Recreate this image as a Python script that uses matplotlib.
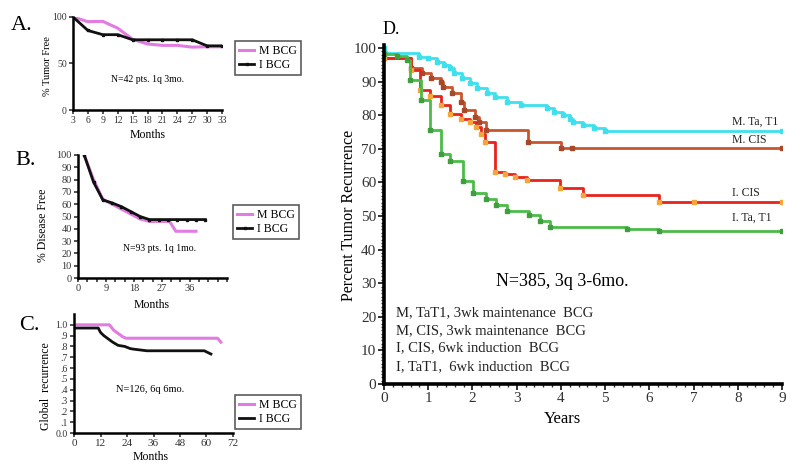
import numpy as np
import matplotlib
matplotlib.use('Agg')
import matplotlib.pyplot as plt
from matplotlib.ticker import MultipleLocator

plt.rcParams['font.family'] = ['Liberation Serif', 'DejaVu Serif']

W, H = 800, 473

# panel A: % tumor free, 3-monthly
a_months = [3, 6, 9, 12, 15, 18, 21, 24, 27, 30, 33]
a_m_bcg = [100, 95, 95.3, 88, 76, 71, 69.5, 69.5, 67.6, 68, 68]
a_i_bcg = [100, 85.5, 81, 81, 75.5, 75.5, 75.5, 75.5, 75.5, 69, 69]

# panel B: % disease free
b_m_months = [2, 5, 8, 11, 14, 17, 20, 23, 26, 29.5, 31.5, 34.5, 38]
b_m_bcg = [100, 80, 64, 60, 56, 52, 48, 46, 46, 46, 38, 38, 38]
b_i_months = [2, 5, 8, 11, 14, 17, 20, 23, 26, 29, 32, 35, 38, 41]
b_i_bcg = [100, 78, 63.5, 61, 58, 54, 50, 47.5, 47.5, 47.5, 47.5, 47.5, 47.5, 47.5]

# panel C: global recurrence
c_m_months = [0, 16, 18, 20, 22, 23.5, 65, 66.5]
c_m_bcg = [1.0, 1.0, 0.95, 0.92, 0.89, 0.876, 0.876, 0.84]
c_i_months = [0, 11, 12, 13.5, 15.5, 17.5, 20, 23, 25.5, 27, 33, 59, 60.5, 62]
c_i_bcg = [0.97, 0.97, 0.93, 0.90, 0.87, 0.84, 0.81, 0.80, 0.78, 0.775, 0.76, 0.76, 0.745, 0.73]

# panel D: percent tumor recurrence (Kaplan-Meier steps), years
d_mta_t = [0, 0.03, 0.8, 1.0, 1.2, 1.35, 1.5, 1.58, 1.76, 1.95, 2.1, 2.32, 2.51, 2.78, 3.1,
           3.68, 3.85, 4.05, 4.2, 4.28, 4.5, 4.74, 5.0, 9.0]
d_mta_v = [100, 98.4, 97.4, 96.9, 95.9, 94.9, 94.0, 92.5, 91.0, 89.5, 88.0, 86.5, 85.5, 84.0, 83.0,
           82.0, 81.0, 80.0, 79.0, 78.0, 77.0, 76.2, 75.4, 75.4]
d_mcis_t = [0, 0.62, 0.85, 1.07, 1.3, 1.34, 1.53, 1.75, 1.8, 2.05, 2.15, 2.3, 3.25, 4.0, 4.25, 9.0]
d_mcis_v = [96.9, 94.0, 92.5, 91.0, 90.0, 88.5, 86.5, 84.0, 81.5, 79.5, 78.0, 75.6, 72.1, 70.2, 70.2, 70.2]
d_icis_t = [0, 0.6, 0.82, 1.05, 1.28, 1.5, 1.75, 1.95, 2.07, 2.2, 2.28, 2.51, 2.74, 2.96, 3.23,
            3.98, 4.49, 6.21, 7.0, 9.0]
d_icis_v = [96.9, 93.5, 87.6, 85.6, 83.1, 80.5, 79.0, 78.0, 76.6, 74.5, 72.1, 63.2, 62.4, 61.5, 60.7,
            58.3, 56.2, 54.3, 54.3, 54.3]
d_ita_t = [0, 0.3, 0.51, 0.59, 0.83, 1.04, 1.3, 1.5, 1.78, 2.02, 2.3, 2.53, 2.79, 3.27, 3.53, 3.76,
           5.49, 6.21, 9.0]
d_ita_v = [98.2, 97.5, 96.4, 90.5, 84.5, 75.6, 68.6, 66.5, 60.5, 56.8, 55.0, 53.3, 51.5, 50.3, 48.5, 46.8,
           46.2, 45.6, 45.6]

d_legend = ['M, TaT1, 3wk maintenance  BCG', 'M, CIS, 3wk maintenance  BCG',
            'I, CIS, 6wk induction  BCG', 'I, TaT1,  6wk induction  BCG']

pink = '#e27be2'
black = '#111111'

fig = plt.figure(figsize=(W / 100, H / 100), dpi=100)


def place(x0, x1, ytop, ybot):
    return fig.add_axes([x0 / W, 1 - ybot / H, (x1 - x0) / W, (ybot - ytop) / H])


def ftext(x, y, s, **kw):
    kw.setdefault('ha', 'center')
    kw.setdefault('va', 'center')
    fig.text(x / W, 1 - y / H, s, **kw)


def style(ax, lw=1.8, size=7):
    for side in ['top', 'right']:
        ax.spines[side].set_visible(False)
    for side in ['left', 'bottom']:
        ax.spines[side].set_linewidth(lw)
        ax.spines[side].set_color('black')
    ax.tick_params(which='both', direction='out', width=1.2, length=3, labelsize=size, pad=1.5,
                   colors='#333333')


def small_legend(ax, x, y):
    leg = ax.legend(loc='upper left', bbox_to_anchor=(x / W, 1 - y / H), bbox_transform=fig.transFigure,
                    fontsize=8.5, frameon=True, fancybox=False, handlelength=1.3, handletextpad=0.4,
                    borderpad=0.35, labelspacing=0.15, borderaxespad=0)
    leg.get_frame().set_edgecolor('#333333')
    leg.get_frame().set_linewidth(1.2)


# ---- A
ax = place(73, 222, 17, 110)
ax.plot(a_months, a_m_bcg, color=pink, lw=2.2, label='M BCG')
ax.plot(a_months, a_i_bcg, color=black, lw=2.0, marker='s', ms=2, label='I BCG')
ax.set_xlim(3, 33)
ax.set_ylim(0, 100)
ax.set_xticks(range(3, 34, 3))
ax.set_yticks([0, 50, 100])
style(ax)
small_legend(ax, 235, 41)
ftext(148, 80, 'N=42 pts. 1q 3mo.', fontsize=7)
ftext(148, 135, 'Months', fontsize=8.5)
ftext(47, 66, '% Tumor Free', fontsize=7.5, rotation=90)
ftext(22, 25, 'A.', fontsize=16)

# ---- B
ax = place(78, 227, 155, 278)
ax.plot(b_m_months, b_m_bcg, color=pink, lw=2.2, label='M BCG')
ax.plot(b_i_months, b_i_bcg, color=black, lw=2.0, marker='s', ms=2, label='I BCG')
ax.set_xlim(0, 48)
ax.set_ylim(0, 100)
ax.set_xticks([0, 9, 18, 27, 36])
ax.xaxis.set_minor_locator(MultipleLocator(3))
ax.set_yticks(range(0, 101, 10))
style(ax, size=7.5)
small_legend(ax, 233, 205)
ftext(160, 248, 'N=93 pts. 1q 1mo.', fontsize=7)
ftext(152, 305, 'Months', fontsize=8.5)
ftext(43, 225, '% Disease Free', fontsize=8.5, rotation=90)
ftext(26, 160, 'B.', fontsize=16)

# ---- C
ax = place(74, 233, 314, 433)
ax.plot(c_m_months, c_m_bcg, color=pink, lw=2.2, label='M BCG')
ax.plot(c_i_months, c_i_bcg, color=black, lw=2.0, label='I BCG')
ax.set_xlim(0, 72)
ax.set_ylim(0, 1.1)
ax.set_xticks(range(0, 73, 12))
c_ticks = np.round(np.arange(0, 1.01, 0.1), 1)
ax.set_yticks(c_ticks)
ax.set_yticklabels(['0.0'] + ['.%d' % k for k in range(1, 10)] + ['1.0'])
style(ax, size=7)
ax.tick_params(axis='x', labelsize=8)
small_legend(ax, 235, 395)
ftext(150, 389, 'N=126, 6q 6mo.', fontsize=7.5)
ftext(151, 457, 'Months', fontsize=8.5)
ftext(46, 386, 'Global  recurrence', fontsize=8.5, rotation=90)
ftext(29, 325, 'C.', fontsize=16)

# ---- D
ax = place(384, 782, 45, 384)
d_series = [
    (d_mta_t, d_mta_v, '#3fe0ee', '#3fe0ee'),
    (d_mcis_t, d_mcis_v, '#c8552e', '#a8482a'),
    (d_icis_t, d_icis_v, '#e8231e', '#f5a53a'),
    (d_ita_t, d_ita_v, '#4cbb4a', '#3f9f3e'),
]
for t, v, col, mcol in d_series:
    ax.plot(t, v, drawstyle='steps-post', color=col, lw=2.0, marker='s', ms=2.4,
            mfc=mcol, mec=mcol)
ax.set_xlim(0, 9)
ax.set_ylim(0, 100.9)
ax.set_xticks(range(0, 10))
ax.set_yticks(range(0, 101, 10))
ax.xaxis.set_minor_locator(MultipleLocator(0.2))
ax.yaxis.set_minor_locator(MultipleLocator(1))
style(ax, lw=2.6, size=11)
ax.tick_params(which='minor', length=2.5, width=1)
ax.tick_params(which='major', length=4, width=1.4)

ftext(562, 282, 'N=385, 3q 3-6mo.', fontsize=13)
for i, line in enumerate(d_legend):
    ftext(396, [313, 331, 348, 367][i], line, fontsize=10.5, ha='left', color='#222222')
for lab, yy in zip(['M. Ta, T1', 'M. CIS', 'I. CIS', 'I. Ta, T1'], [122, 140, 193, 218]):
    ftext(732, yy, lab, fontsize=8.5, ha='left', color='#222222')
ftext(562, 419, 'Years', fontsize=12)
ftext(349, 215, 'Percent Tumor Recurrence', fontsize=11.5, rotation=90)
ftext(391, 29, 'D.', fontsize=13)

fig.savefig('out.png', dpi=100)
